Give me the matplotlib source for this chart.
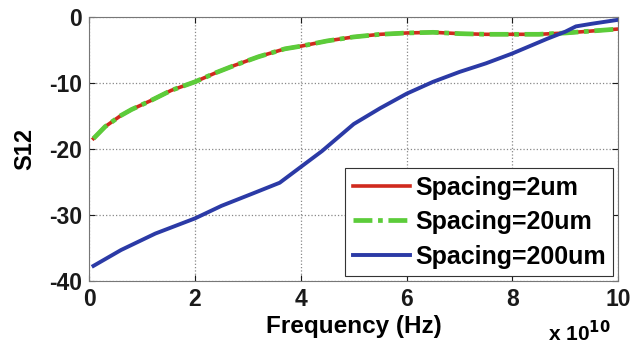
import matplotlib.pyplot as plt

plt.rcParams['font.family'] = ['Liberation Sans', 'DejaVu Sans']
plt.rcParams['font.weight'] = 'bold'
plt.rcParams['axes.unicode_minus'] = False

# frequency in units of 1e10 Hz
freq = [0.08, 0.3, 0.6, 0.8, 1.15, 1.55, 2.0, 2.4, 2.75, 3.2, 3.7, 4.0, 4.5,
        5.0, 5.5, 6.0, 6.5, 7.0, 7.5, 8.0, 8.5, 9.0, 9.5, 10.0]
s12_2um = [-18.4, -16.6, -14.9, -14.0, -12.7, -11.1, -9.8, -8.4, -7.3, -6.0,
           -4.8, -4.4, -3.6, -3.0, -2.6, -2.4, -2.3, -2.5, -2.6, -2.6, -2.6,
           -2.4, -2.1, -1.8]
s12_20um = [-18.4, -16.6, -14.9, -14.0, -12.7, -11.1, -9.8, -8.4, -7.3, -6.0,
            -4.8, -4.4, -3.6, -3.0, -2.6, -2.4, -2.3, -2.5, -2.6, -2.6, -2.6,
            -2.4, -2.1, -1.8]
freq_b = [0.08, 0.6, 1.25, 2.0, 2.5, 3.1, 3.6, 4.0, 4.4, 5.0, 5.5, 6.0, 6.5,
          7.0, 7.5, 8.0, 8.65, 9.0, 9.2, 9.5, 10.0]
s12_200um = [-37.7, -35.3, -32.8, -30.5, -28.6, -26.7, -25.1, -22.7, -20.3,
             -16.2, -13.8, -11.6, -9.8, -8.3, -7.0, -5.5, -3.3, -2.2, -1.4,
             -1.0, -0.4]

fig = plt.figure(figsize=(6.42, 3.5), dpi=100)
ax = fig.add_axes([0.139, 0.197, 0.824, 0.754])

ax.plot(freq, s12_2um, color='#d02a1e', lw=2.6, label='Spacing=2um')
ax.plot(freq, s12_20um, color='#5ccc3a', lw=3.4, ls=(0, (4, 1.2, 1, 1.2)),
        label='Spacing=20um')
ax.plot(freq_b, s12_200um, color='#2b3aa6', lw=2.8, label='Spacing=200um')

ax.set_xlim(0, 10)
ax.set_ylim(-40, 0)
ax.set_xticks([0, 2, 4, 6, 8, 10])
ax.set_yticks([-40, -30, -20, -10, 0])
ax.grid(True, ls=':', color='#888888', lw=0.9)
ax.tick_params(direction='in', top=True, right=True, labelsize=16.5,
               colors='#1a1a1a', length=4, pad=5)
for sp in ax.spines.values():
    sp.set_color('#777777')

ax.set_xlabel('Frequency (Hz)', fontsize=17.5, fontweight='bold', labelpad=3)
ax.set_ylabel('S12', fontsize=17, fontweight='bold', labelpad=9)
fig.text(0.854, 0.024, r'x 10$^{\mathbf{10}}$', fontsize=15, fontweight='bold',
         va='baseline')

leg = ax.legend(loc='lower right', fontsize=18, handlelength=2.3,
                handletextpad=0.2, borderpad=0.3, labelspacing=0.42,
                borderaxespad=0.2, fancybox=False, framealpha=1)
leg.get_frame().set_edgecolor('#333333')
leg.get_frame().set_linewidth(0.8)

fig.savefig('out.png', dpi=100)
